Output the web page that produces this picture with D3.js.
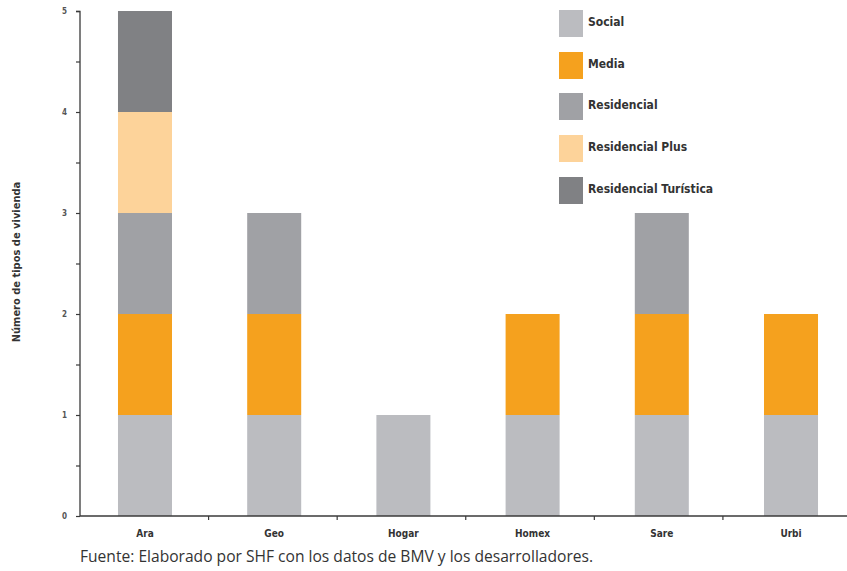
<!DOCTYPE html>
<html><head><meta charset="utf-8">
<script src="https://cdn.jsdelivr.net/npm/d3@7/dist/d3.min.js"></script>
<style>body{margin:0;background:#fff}svg{display:block}</style>
</head><body>
<svg id="c" width="847" height="571"></svg>
<script>
const categories = ["Ara","Geo","Hogar","Homex","Sare","Urbi"];
const seriesNames = ["Social","Media","Residencial","Residencial Plus","Residencial Turística"];
const social = [1,1,1,1,1,1];
const media = [1,1,0,1,1,1];
const residencial = [1,1,0,0,1,0];
const residencialPlus = [1,0,0,0,0,0];
const residencialTuristica = [1,0,0,0,0,0];
const colors = ["#bbbcc0","#f5a11e","#a0a1a5","#fdd39a","#808184"];
const yTicks = [0,1,2,3,4,5];
const yLabel = "Número de tipos de vivienda";
const source = "Fuente: Elaborado por SHF con los datos de BMV y los desarrolladores.";

const svg = d3.select("#c");
const mLeft = 80, mRight = 851.5, mTop = 11, mBottom = 516;
const x = d3.scaleBand().domain(categories).range([mLeft, 856]).paddingInner(0.582).paddingOuter(0.294);
const y = d3.scaleLinear().domain([0,5]).range([mBottom, mTop]);

const table = categories.map((c,i)=>({cat:c,
  "Social":social[i],"Media":media[i],"Residencial":residencial[i],
  "Residencial Plus":residencialPlus[i],"Residencial Turística":residencialTuristica[i]}));
const stacked = d3.stack().keys(seriesNames)(table);

svg.append("g").selectAll("g").data(stacked).join("g")
  .attr("fill",(d,i)=>colors[i])
  .selectAll("rect").data(d=>d.filter(p=>p[1]-p[0]>0)).join("rect")
  .attr("x",d=>x(d.data.cat)).attr("width",x.bandwidth())
  .attr("y",d=>y(d[1])).attr("height",d=>y(d[0])-y(d[1]));

const font = "'Liberation Sans Narrow','DejaVu Sans Condensed',sans-serif";

// y axis
const ya = svg.append("g").attr("transform",`translate(${mLeft},0)`)
  .call(d3.axisLeft(y).tickValues(d3.range(0,5.01,0.5)).tickSize(4).tickPadding(9)
    .tickFormat(d=>Number.isInteger(d)?d:""));
ya.select(".domain").attr("stroke","#3a3a3a").attr("stroke-width",1.3).attr("d",`M-4,${mTop+0.5}H0V${mBottom}`);
ya.selectAll(".tick line").attr("stroke","#3a3a3a").attr("stroke-width",1.2);
ya.selectAll(".tick text").attr("font-family",font).attr("font-size",8).attr("font-weight","bold").attr("fill","#555");

// x axis
const xa = svg.append("g").attr("transform",`translate(0,${mBottom})`);
xa.append("path").attr("d",`M${mLeft},0H${mRight}`).attr("stroke","#3a3a3a").attr("stroke-width",1.3).attr("fill","none");
const bounds = d3.range(1,categories.length).map(i=>mLeft + i*(mRight-mLeft)/categories.length);
xa.selectAll("line.b").data(bounds).join("line").attr("class","b")
  .attr("x1",d=>d).attr("x2",d=>d).attr("y1",0).attr("y2",4).attr("stroke","#3a3a3a").attr("stroke-width",1.2);
xa.selectAll("text").data(categories).join("text")
  .attr("x",d=>x(d)+x.bandwidth()/2).attr("y",21).attr("text-anchor","middle")
  .attr("font-family",font).attr("font-size",10).attr("font-weight","bold").attr("fill","#333").text(d=>d);

// y label
svg.append("text").attr("transform","translate(20,262) rotate(-90)").attr("text-anchor","middle")
  .attr("font-family",font).attr("font-size",11).attr("font-weight","bold").attr("fill","#333").text(yLabel);

// legend
const lg = svg.append("g");
const legY = [10,52,93,135,177];
seriesNames.forEach((s,i)=>{
  lg.append("rect").attr("x",559).attr("y",legY[i]).attr("width",24).attr("height",27).attr("fill",colors[i]);
  lg.append("text").attr("x",588).attr("y",legY[i]+16).attr("font-family",font).attr("font-size",12)
    .attr("font-weight","bold").attr("fill","#333").text(s);
});

// source
svg.append("text").attr("x",80).attr("y",562).attr("font-family","'Open Sans',sans-serif").attr("font-size",15.6)
  .attr("fill","#333").text(source);
</script>
</body></html>
